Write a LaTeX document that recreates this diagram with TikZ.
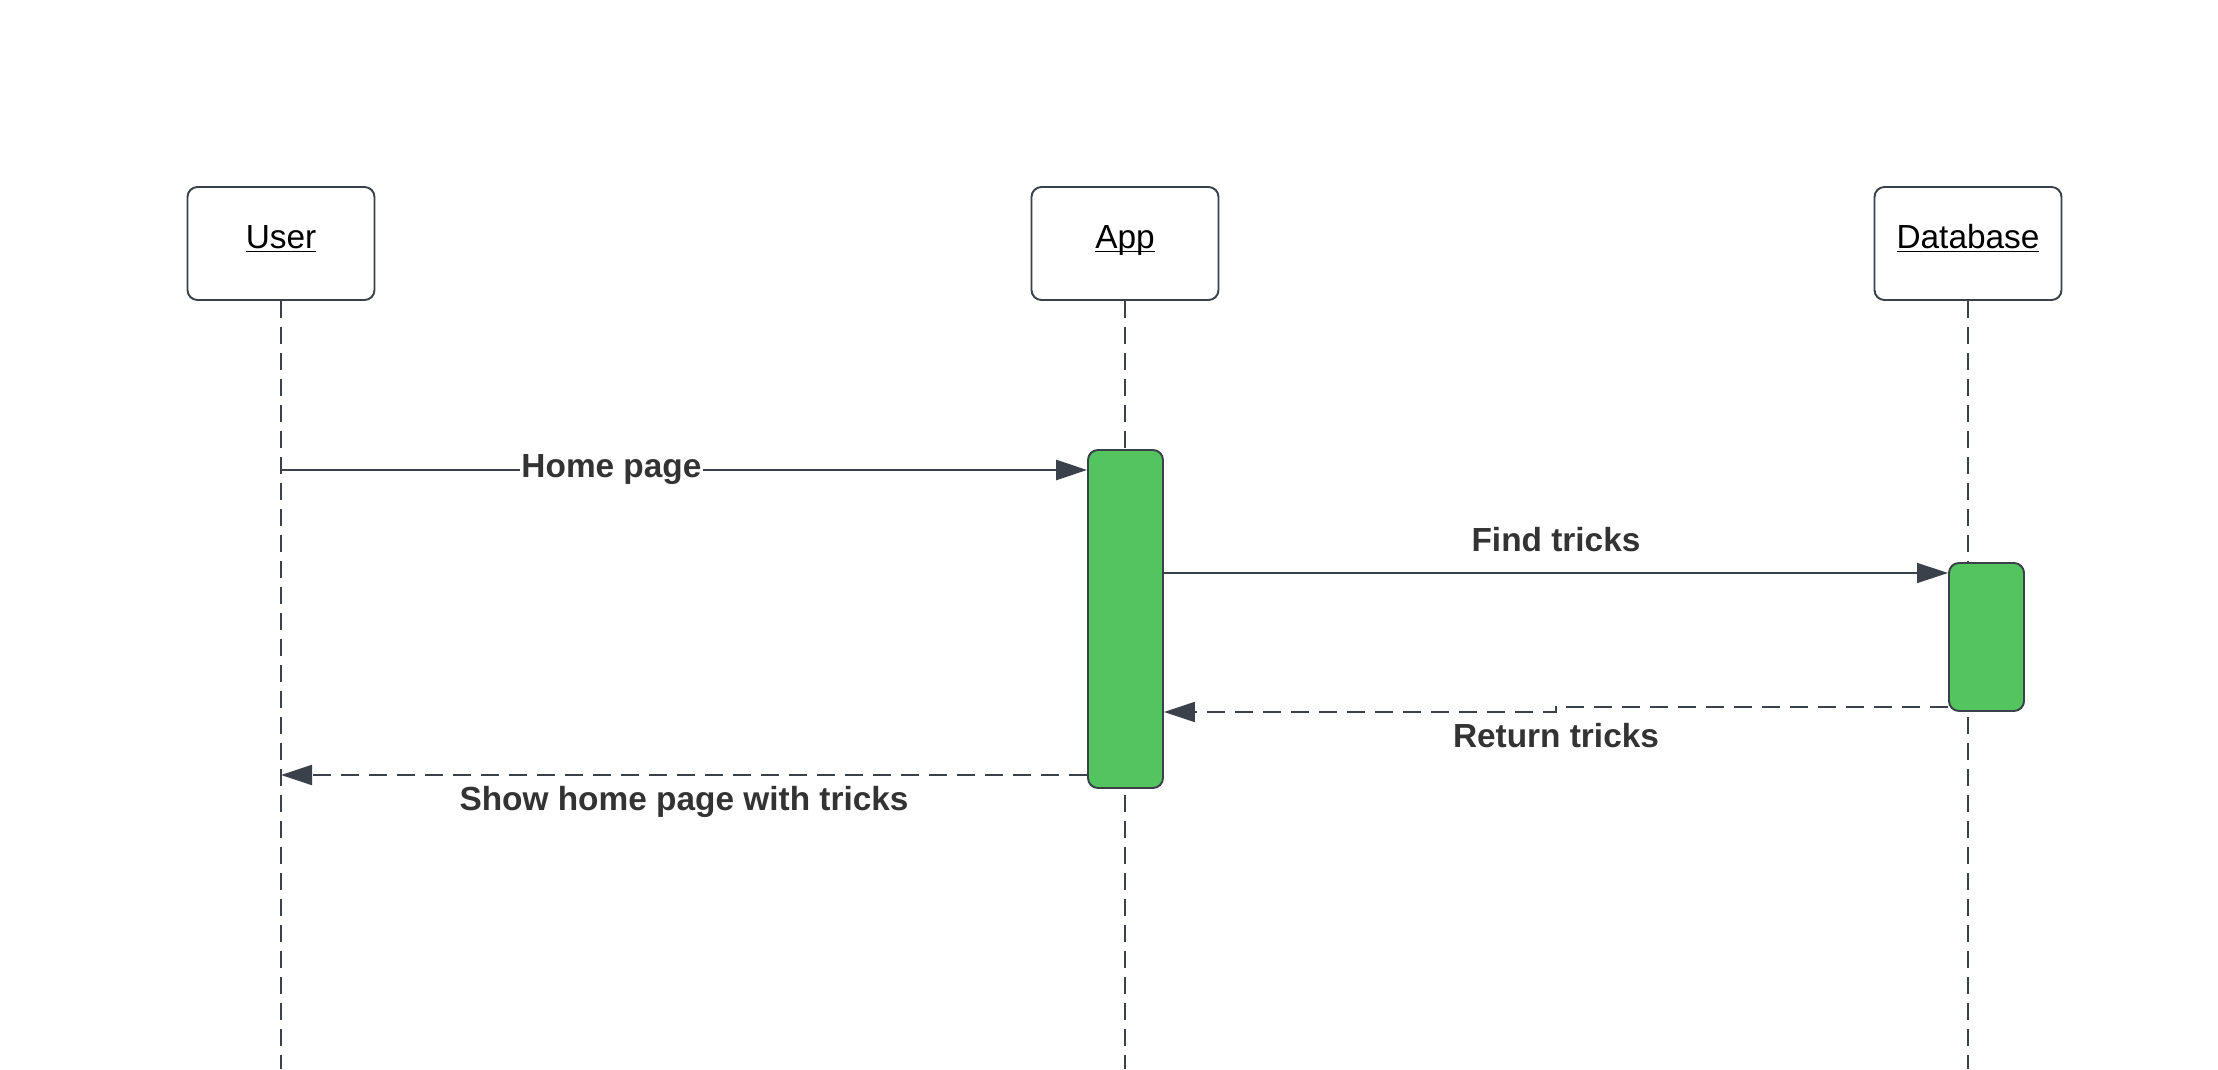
\documentclass[tikz,border=0pt]{standalone}
\usepackage{fontspec}
\setmainfont{Liberation Sans}
\usepackage{xcolor}
\usetikzlibrary{arrows.meta,positioning}
\definecolor{edge}{HTML}{3A414A}
\definecolor{lbltext}{HTML}{333333}
\definecolor{actgreen}{HTML}{54C45E}
\newcommand{\ulname}[1]{\underline{\smash{#1}}}

\begin{document}
\begin{tikzpicture}[
    actor/.style={shape=rectangle, rounded corners=0.2cm, draw=edge, line width=1.1pt,
      minimum width=3.74cm, minimum height=2.26cm, text height=0.5cm, text depth=0.28cm,
      font=\fontsize{19}{23}\selectfont},
    life/.style={draw=edge, line width=1.1pt, dash pattern=on 0.34cm off 0.18cm},
    act/.style={shape=rectangle, rounded corners=0.2cm, draw=edge, line width=1.1pt,
      fill=actgreen, minimum width=1.5cm, inner sep=0pt},
    msg/.style={draw=edge, -{Triangle[length=0.62cm,width=0.4cm]}},
    ret/.style={msg, line width=1.1pt, dash pattern=on 0.36cm off 0.2cm},
    lbl/.style={font=\bfseries\fontsize{19}{23}\selectfont, text=lbltext}]
    \useasboundingbox (0,0) rectangle (44.36,21.38);

    \node[actor] (user) at (5.62,16.51) {\ulname{User}};
    \node[actor] (app) at (22.50,16.51) {\ulname{App}};
    \node[actor] (db) at (39.36,16.51) {\ulname{Database}};

    % lifelines
    \coordinate (user-end) at (5.62,0);
    \coordinate (app-end) at (22.50,0);
    \coordinate (db-end) at (39.36,0);
    \draw[life] (user) -- (user-end);
    \draw[life] (app) -- (app-end);
    \draw[life] (db) -- (db-end);

    \node[act, minimum height=6.76cm] (appact) at (22.51,9.0) {};
    \node[act, minimum height=2.96cm] (dbact) at (39.73,8.64) {};

    % messages
    \coordinate (home) at (5.62,11.98);
    \draw[msg, line width=1.6pt] (home) -- node[lbl, pos=0.41, fill=white, inner sep=1pt] {Home page} (home -| appact.west);
    \coordinate (find) at (appact.east |- 0,9.92);
    \draw[msg, line width=0.7pt] (find) -- node[lbl, above=0.29cm] {Find tricks} (find -| dbact.west);
    \coordinate (back) at (dbact.west |- 0,7.24);
    \coordinate (jog) at (31.12,7.14);
    \draw[ret] (back) -- (back -| jog) -- (jog) node[lbl, below=0.08cm] {Return tricks} -- (jog -| appact.east);
    \coordinate (show) at (appact.west |- 0,5.88);
    \draw[ret] (show) -- node[lbl, below=0.08cm] {Show home page with tricks} (show -| user-end);
\end{tikzpicture}
\end{document}
